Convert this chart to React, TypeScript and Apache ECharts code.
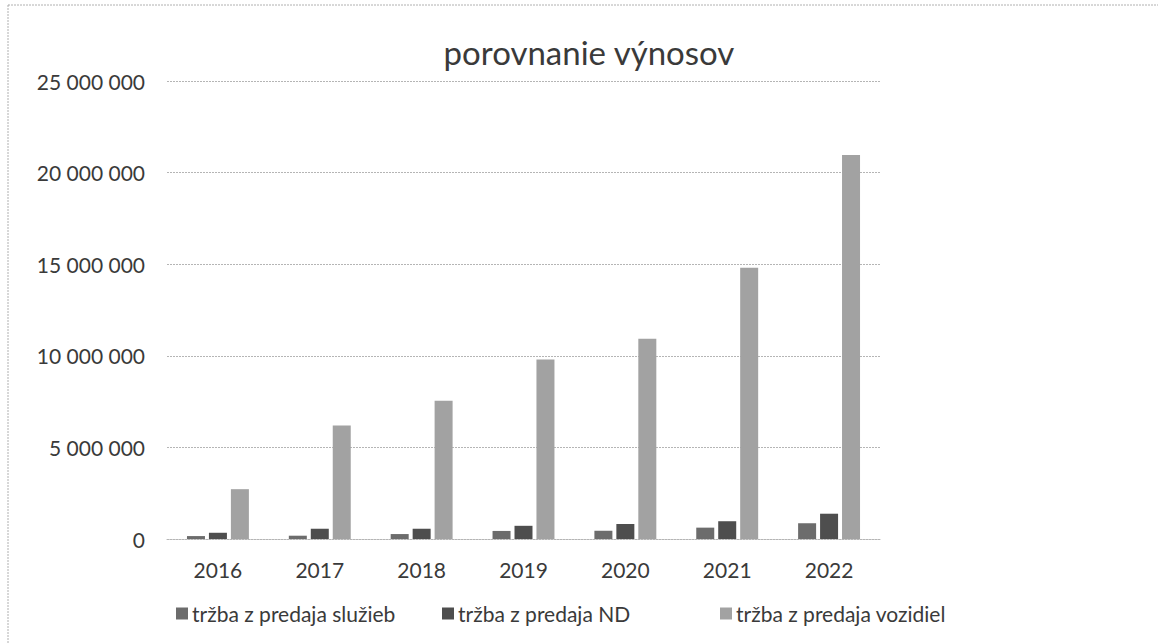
import React, { useEffect, useRef } from "react";
import * as echarts from "echarts";

const years = ["2016", "2017", "2018", "2019", "2020", "2021", "2022"];
const sluzby = [160000, 180000, 270000, 440000, 450000, 620000, 860000];
const nd = [340000, 560000, 560000, 720000, 820000, 970000, 1380000];
const vozidla = [2720000, 6200000, 7540000, 9800000, 10930000, 14800000, 20960000];
const seriesNames = ["tržba z predaja služieb", "tržba z predaja ND", "tržba z predaja vozidiel"];
const colors = ["#6c6c6c", "#4e4e4e", "#a2a2a2"];
const legendLefts = [176, 442, 720];

const fmt = (v: number) => String(v).replace(/\B(?=(\d{3})+(?!\d))/g, " ");

export default function App() {
  const ref = useRef<HTMLDivElement>(null);
  useEffect(() => {
    document.body.style.margin = "0";
    const chart = echarts.init(ref.current!, null, { renderer: "svg" });
    const font = "Lato, 'Open Sans', sans-serif";
    chart.setOption({
      animation: false,
      backgroundColor: "#ffffff",
      title: {
        text: "porovnanie výnosov",
        left: 584,
        textAlign: "center",
        top: 30,
        textStyle: { fontFamily: font, fontSize: 33, fontWeight: "normal", color: "#3a3a3a" },
      },
      graphic: [
        {
          type: "rect",
          shape: { x: 8, y: 5, width: 1160, height: 650 },
          style: { fill: "none", stroke: "#b0b0b0", lineWidth: 1, lineDash: [2, 1] },
        },
      ],
      legend: seriesNames.map((n, i) => ({
        left: legendLefts[i],
        top: 603,
        padding: 0,
        itemWidth: 12,
        itemHeight: 12,
        icon: "rect",
        textStyle: { fontFamily: font, fontSize: 21, color: "#3a3a3a", padding: [0, 0, 0, -1] },
        data: [n],
      })),
      grid: { left: 167, right: 278, top: 81, bottom: 105, containLabel: false },
      xAxis: {
        type: "category",
        data: years,
        axisTick: { show: false },
        axisLine: { lineStyle: { color: "#b5b5b5", type: [2, 1] } },
        axisLabel: { fontFamily: font, fontSize: 21, color: "#3a3a3a", margin: 20 },
      },
      yAxis: {
        type: "value",
        min: 0,
        max: 25000000,
        interval: 5000000,
        axisLine: { show: false },
        axisTick: { show: false },
        splitLine: { lineStyle: { color: "#b5b5b5", type: [2, 1] } },
        axisLabel: {
          fontFamily: font,
          fontSize: 21,
          color: "#3a3a3a",
          margin: 22,
          formatter: (v: number) => fmt(v),
        },
      },
      series: [sluzby, nd, vozidla].map((d, i) => ({
        name: seriesNames[i],
        type: "bar",
        data: d,
        barWidth: 18,
        barGap: "22%",
        itemStyle: { color: colors[i] },
      })),
    });
    return () => chart.dispose();
  }, []);
  return <div ref={ref} style={{ width: 1158, height: 644 }} />;
}
